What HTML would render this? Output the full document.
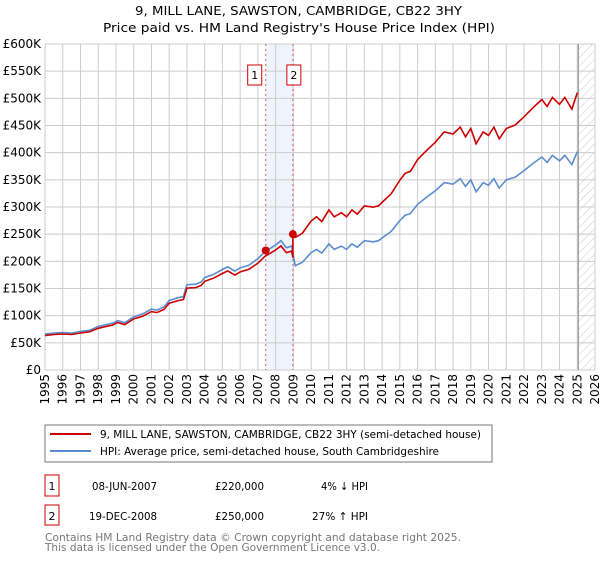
<!DOCTYPE html>
<html><head><meta charset="utf-8"><style>
body{margin:0;background:#fff;width:600px;height:560px;overflow:hidden;font-family:"Liberation Sans","DejaVu Sans",sans-serif}
svg text{font-family:"DejaVu Sans","Liberation Sans",sans-serif}
</style></head><body>
<svg id="c" width="600" height="560" xmlns="http://www.w3.org/2000/svg">
<text x="135" y="15" font-size="12" textLength="327" lengthAdjust="spacingAndGlyphs" fill="#000">9, MILL LANE, SAWSTON, CAMBRIDGE, CB22 3HY</text>
<text x="103" y="32" font-size="12" textLength="392" lengthAdjust="spacingAndGlyphs" fill="#000">Price paid vs. HM Land Registry's House Price Index (HPI)</text>
<defs><pattern id="hatch" width="6" height="6" patternUnits="userSpaceOnUse" patternTransform="rotate(45)"><line x1="0" y1="0" x2="0" y2="6" stroke="#ccc" stroke-width="1"/></pattern></defs>
<g id="plot"></g>
<rect x="45" y="425" width="447" height="37" fill="#fff" stroke="#777"/>
<line x1="50" y1="434" x2="91" y2="434" stroke="#cc0000" stroke-width="2"/>
<text x="100" y="438" font-size="11" textLength="381" lengthAdjust="spacingAndGlyphs">9, MILL LANE, SAWSTON, CAMBRIDGE, CB22 3HY (semi-detached house)</text>
<line x1="50" y1="451" x2="91" y2="451" stroke="#5b8dd0" stroke-width="2"/>
<text x="100" y="455" font-size="11" textLength="339" lengthAdjust="spacingAndGlyphs">HPI: Average price, semi-detached house, South Cambridgeshire</text>
<g>
<rect x="45" y="475" width="14" height="21" fill="none" stroke="#cc0000"/>
<text x="52" y="490" text-anchor="middle" font-size="11">1</text>
<text x="92" y="490" font-size="11" textLength="65" lengthAdjust="spacingAndGlyphs">08-JUN-2007</text>
<text x="215" y="490" font-size="11" textLength="49" lengthAdjust="spacingAndGlyphs">£220,000</text>
<text x="321" y="490" font-size="11" textLength="47" lengthAdjust="spacingAndGlyphs">4% ↓ HPI</text></g>
<g>
<rect x="45" y="505" width="14" height="20" fill="none" stroke="#cc0000"/>
<text x="52" y="520" text-anchor="middle" font-size="11">2</text>
<text x="89" y="520" font-size="11" textLength="68" lengthAdjust="spacingAndGlyphs">19-DEC-2008</text>
<text x="215" y="520" font-size="11" textLength="49" lengthAdjust="spacingAndGlyphs">£250,000</text>
<text x="312" y="520" font-size="11" textLength="56" lengthAdjust="spacingAndGlyphs">27% ↑ HPI</text></g>
<text x="45" y="541" font-size="11" fill="#777" textLength="416" lengthAdjust="spacingAndGlyphs">Contains HM Land Registry data © Crown copyright and database right 2025.</text>
<text x="45" y="551" font-size="11" fill="#777" textLength="335" lengthAdjust="spacingAndGlyphs">This data is licensed under the Open Government Licence v3.0.</text>
</svg>
<script>
const yTicks=[0,50,100,150,200,250,300,350,400,450,500,550,600];
const yTickLabels=["£0","£50K","£100K","£150K","£200K","£250K","£300K","£350K","£400K","£450K","£500K","£550K","£600K"];
const years=[1995,1996,1997,1998,1999,2000,2001,2002,2003,2004,2005,2006,2007,2008,2009,2010,2011,2012,2013,2014,2015,2016,2017,2018,2019,2020,2021,2022,2023,2024,2025,2026];
const hpiDates=[1995,1995.5,1996,1996.5,1997,1997.5,1998,1998.5,1998.8,1999.1,1999.5,2000,2000.5,2001,2001.3,2001.7,2002,2002.5,2002.8,2003,2003.5,2003.8,2004,2004.5,2005,2005.3,2005.7,2006,2006.5,2007,2007.4,2007.7,2008,2008.3,2008.6,2008.9,2009.1,2009.5,2010,2010.3,2010.6,2011,2011.3,2011.7,2012,2012.3,2012.6,2013,2013.5,2013.8,2014,2014.5,2015,2015.3,2015.6,2016,2016.5,2017,2017.5,2018,2018.4,2018.7,2019,2019.3,2019.7,2020,2020.3,2020.6,2021,2021.5,2022,2022.5,2023,2023.3,2023.6,2024,2024.3,2024.7,2025];
const hpiValues=[66,68,69,68,71,73,80,84,86,91,87,98,103,112,110,116,128,133,135,157,158,162,170,176,185,190,182,188,193,205,218,224,230,238,225,228,192,198,216,222,215,232,222,228,222,232,226,238,236,238,243,255,275,285,288,305,318,330,345,342,352,338,350,328,345,340,352,335,350,355,367,380,392,382,395,385,395,378,402];
const saleDates=[2007.44,2008.97];
const salePrices=[220,250];
const saleRatios=[0.96,1.27];

const NS="http://www.w3.org/2000/svg";
const plot=document.getElementById('plot');
const X0=45,X1=595,Y0=370,Y1=44;
const xS=t=>X0+(t-1995)/31*(X1-X0);
const yS=v=>Y0-v/600*(Y0-Y1);
function el(tag,attrs,parent){const e=document.createElementNS(NS,tag);for(const k in attrs)e.setAttribute(k,attrs[k]);(parent||plot).appendChild(e);return e;}
let sh=el('rect',{x:xS(saleDates[0]),y:Y1,width:xS(saleDates[1])-xS(saleDates[0]),height:Y0-Y1,fill:'#eef3fc'});


let ht=el('rect',{x:xS(2025.06),y:Y1,width:X1-xS(2025.06),height:Y0-Y1,fill:'url(#hatch)'});


yTicks.forEach((v,i)=>{
 el('line',{x1:X0,x2:X1,y1:yS(v),y2:yS(v),stroke:'#ccc','stroke-width':1});
 const t=el('text',{x:X0-4,y:yS(v)+4,'text-anchor':'end','font-size':12});
 t.textContent=yTickLabels[i];
 
 
});
years.forEach(yr=>{
 el('line',{x1:xS(yr),x2:xS(yr),y1:Y1,y2:Y0,stroke:'#ccc','stroke-width':1});
 const t=el('text',{x:0,y:0,'text-anchor':'end','font-size':12,transform:`translate(${xS(yr)+4},${Y0+4}) rotate(-90)`});
 t.textContent=yr;
 
 
});
el('line',{x1:xS(2025.06),x2:xS(2025.06),y1:Y1,y2:Y0,stroke:'#999','stroke-width':1.2});
saleDates.forEach((d,i)=>{
 el('line',{x1:xS(d),x2:xS(d),y1:Y1,y2:Y0,stroke:'#e06060','stroke-width':1,'stroke-dasharray':'2,3'});
 const b=el('rect',{x:xS(d)-(i?6:18),y:65,width:14,height:20,fill:'#fff',stroke:'#cc0000'});
 
 
 const t=el('text',{x:xS(d)-(i?-1:11),y:79,'text-anchor':'middle','font-size':11});
 t.textContent=String(i+1);
});
const interp=t=>{for(let i=1;i<hpiDates.length;i++){if(t<=hpiDates[i]){const f=(t-hpiDates[i-1])/(hpiDates[i]-hpiDates[i-1]);return hpiValues[i-1]+f*(hpiValues[i]-hpiValues[i-1]);}}return hpiValues[hpiValues.length-1];};
const hp=el('path',{d:hpiDates.map((t,i)=>(i?'L':'M')+xS(t).toFixed(1)+','+yS(hpiValues[i]).toFixed(1)).join(''),fill:'none',stroke:'#5b8dd0','stroke-width':1.6});


let pts=[];
hpiDates.forEach((t,i)=>{ if(t<saleDates[1]) pts.push([t,hpiValues[i]*saleRatios[0]]); });
pts.push([saleDates[1],interp(saleDates[1])*saleRatios[0]]);
pts.push([saleDates[1],salePrices[1]]);
hpiDates.forEach((t,i)=>{ if(t>saleDates[1]) pts.push([t,hpiValues[i]*saleRatios[1]]); });
const rp=el('path',{d:pts.map((p,i)=>(i?'L':'M')+xS(p[0]).toFixed(1)+','+yS(p[1]).toFixed(1)).join(''),fill:'none',stroke:'#cc0000','stroke-width':1.6});


saleDates.forEach((d,i)=>{
 const c=el('circle',{cx:xS(d),cy:yS(salePrices[i]),r:4,fill:'#cc0000'});
 
 
});
</script>
</body></html>
